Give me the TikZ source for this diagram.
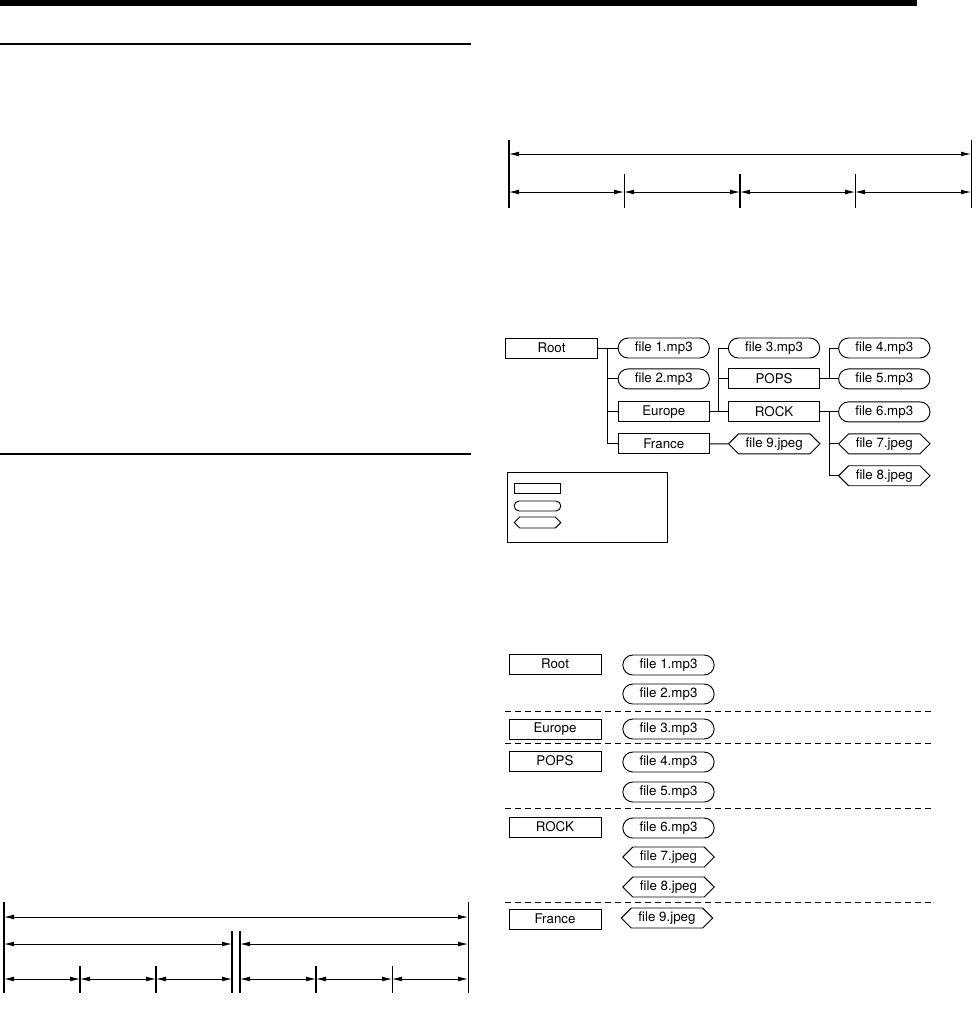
\documentclass[tikz,border=0pt]{standalone}
\usepackage{fontspec}
\setsansfont{TeX Gyre Heros}
\usetikzlibrary{positioning, arrows.meta, shapes.symbols, calc}

\begin{document}
\begin{tikzpicture}[
  x=0.75pt, y=-0.75pt,
  folder/.style={draw, line width=0.7pt, minimum width=68.5pt, minimum height=15pt,
                 inner sep=0pt, font=\sffamily},
  mpfile/.style={folder, rounded corners=7.5pt},
  jpgfile/.style={folder, shape=signal, signal to=east and west, signal pointer angle=90},
  keybox/.style={draw, line width=0.7pt, minimum width=35pt, minimum height=7.5pt, inner sep=0pt},
  wire/.style={line width=0.7pt},
  dimarr/.style={{Latex[length=7.5pt,width=3.6pt]}-{Latex[length=7.5pt,width=3.6pt]}, line width=0.6pt},
  dimtick/.style={line width=0.7pt},
  boldtick/.style={line width=1.4pt},
  sepline/.style={dash pattern=on 4.5pt off 3pt, line width=0.6pt},
]
\useasboundingbox (0,0) rectangle (976,1033);

% ===== PAGE RULES =====
\fill (0,0) rectangle (917,6);
\draw[line width=1.1pt] (0,44) -- (471,44);
\draw[line width=1.1pt] (0,454) -- (471,454);

% ===== DIMENSION BARS (upper right) =====
\draw[boldtick] (509,140) -- (509,208);
\draw[dimtick] (971,140) -- (971,208);
\draw[dimtick] (624,174) -- (624,208);
\draw[boldtick] (740,174) -- (740,208);
\draw[dimtick] (855,174) -- (855,208);
\draw[dimarr] (509,154) -- (971,154);
\foreach \a/\b in {509/624, 624/740, 740/855, 855/971}
  \draw[dimarr] (\a,192) -- (\b,192);

% ===== FOLDER TREE =====
\node[folder] (root) at (551.5,348) {Root};
\node[mpfile, right=15pt of root] (f1) {file 1.mp3};
\node[mpfile, below=7.5pt of f1] (f2) {file 2.mp3};
\node[folder, below=9pt of f2] (eu) {Europe};
\node[folder, below=8.25pt of eu] (fr) {France};

\node[mpfile, right=13.5pt of f1] (f3) {file 3.mp3};
\node[folder, below=7.5pt of f3] (pops) {POPS};
\node[folder, right=13.5pt of eu] (rock) {ROCK};
\node[jpgfile, right=13.5pt of fr] (f9) {file 9.jpeg};

\node[mpfile, right=13.5pt of f3] (f4) {file 4.mp3};
\node[mpfile, below=7.5pt of f4] (f5) {file 5.mp3};
\node[mpfile, right=13.5pt of rock] (f6) {file 6.mp3};
\node[jpgfile, below=8.25pt of f6] (f7) {file 7.jpeg};
\node[jpgfile, below=8.25pt of f7] (f8) {file 8.jpeg};

% junction points
\coordinate (rj) at ($(root.east)+(10,0)$);
\coordinate (ej) at ($(eu.east)+(9,0)$);
\coordinate (pj) at ($(pops.east)+(9,0)$);
\coordinate (kj) at ($(rock.east)+(9,0)$);

\draw[wire] (root) -- (f1);
\draw[wire] (rj) |- (f2.west);
\draw[wire] (rj) |- (eu.west);
\draw[wire] (rj) |- (fr.west);
\draw[wire] (eu) -- (rock);
\draw[wire] (ej) |- (f3.west);
\draw[wire] (ej) |- (pops.west);
\draw[wire] (pops) -- (f5);
\draw[wire] (pj) |- (f4.west);
\draw[wire] (rock) -- (f6);
\draw[wire] (kj) |- (f7.west);
\draw[wire] (kj) |- (f8.west);
\draw[wire] (fr) -- (f9);

% ===== KEY =====
\node[draw, line width=0.7pt, minimum width=120pt, minimum height=52.5pt, inner sep=0pt] (key) at (587,507) {};
\node[keybox] (k1) at (537.5,488) {};
\node[keybox, rounded corners=3.75pt] (k2) at (537.5,506) {};
\node[keybox, shape=signal, signal to=east and west, minimum height=8.25pt] (k3) at (537.5,522.5) {};

% ===== FOLDER / FILE LIST =====
\node[folder, minimum width=69pt] (lroot) at (555,664) {Root};
\node[folder, minimum width=69pt] (leu) at (555,729) {Europe};
\node[folder, minimum width=69pt] (lpops) at (555,761) {POPS};
\node[folder, minimum width=69pt] (lrock) at (555,827) {ROCK};
\node[folder, minimum width=69pt] (lfr) at (555,919) {France};

\node[mpfile] (lf1) at (668.5,665) {file 1.mp3};
\node[mpfile] (lf2) at (668.5,694) {file 2.mp3};
\node[mpfile] (lf3) at (668.5,729) {file 3.mp3};
\node[mpfile] (lf4) at (668.5,762) {file 4.mp3};
\node[mpfile] (lf5) at (668.5,792) {file 5.mp3};
\node[mpfile] (lf6) at (668.5,828) {file 6.mp3};
\node[jpgfile] (lf7) at (668.5,857) {file 7.jpeg};
\node[jpgfile] (lf8) at (668.5,887) {file 8.jpeg};
\node[jpgfile] (lf9) at (667,918) {file 9.jpeg};

\foreach \y in {711, 743, 808, 902}
  \draw[sepline] (505,\y) -- (932,\y);

% ===== DIMENSION BARS (lower left) =====
\draw[boldtick] (4,902) -- (4,993);
\draw[dimtick] (468,902) -- (468,993);
\draw[boldtick] (232,931) -- (232,993);
\draw[boldtick] (240,931) -- (240,993);
\foreach \x in {80, 156, 316}
  \draw[boldtick] (\x,966) -- (\x,993);
\draw[dimtick] (392,966) -- (392,993);
\draw[dimarr] (4,917) -- (468,917);
\draw[dimarr] (4,944) -- (232,944);
\draw[dimarr] (240,944) -- (468,944);
\foreach \a/\b in {4/80, 80/156, 156/232, 240/316, 316/392, 392/468}
  \draw[dimarr] (\a,979) -- (\b,979);

\end{tikzpicture}
\end{document}
